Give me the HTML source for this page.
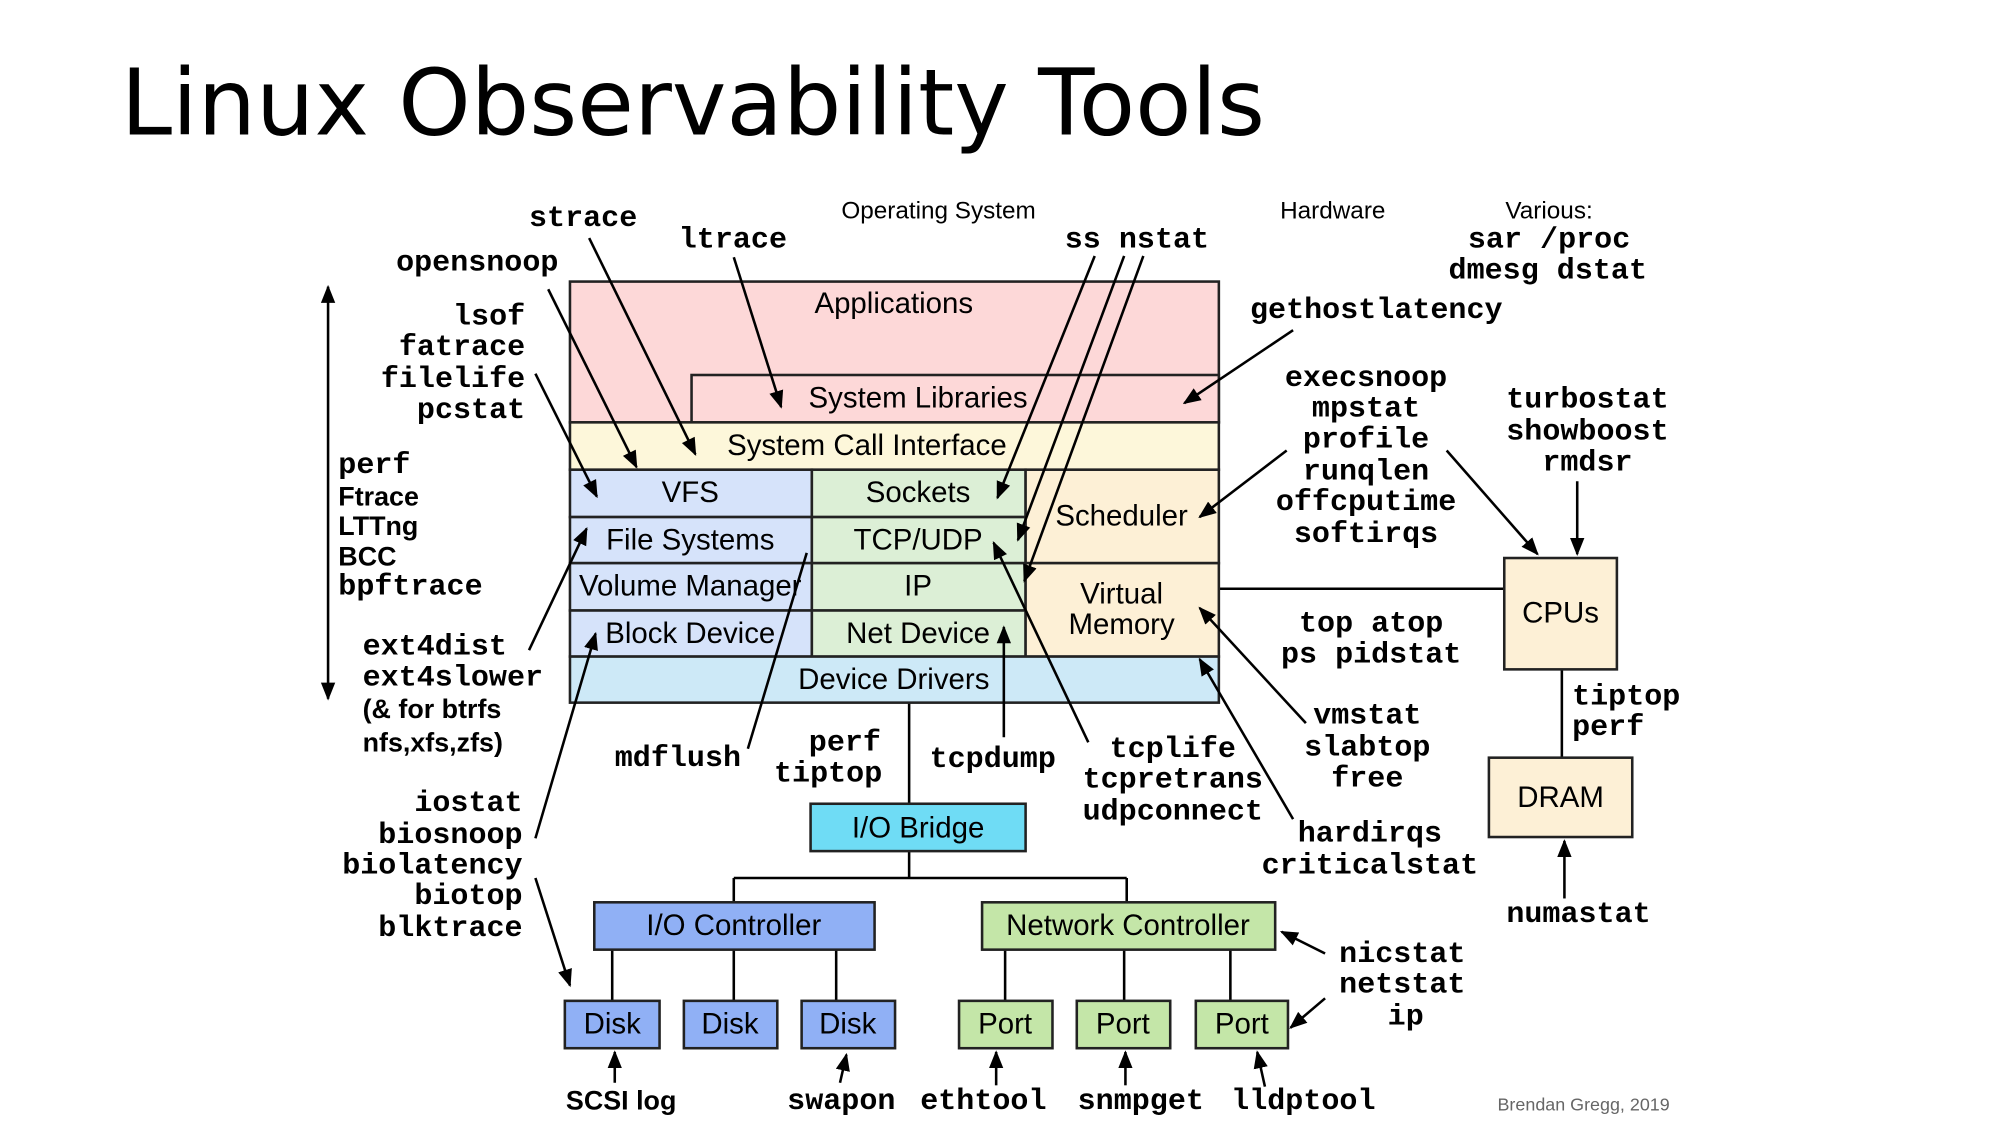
<!DOCTYPE html>
<html><head><meta charset="utf-8"><style>
html,body{margin:0;padding:0;background:#fff;}
svg{display:block;}
.m{font-family:"Liberation Mono",monospace;font-weight:bold;font-size:23.5px;fill:#000;}
.s{font-family:"Liberation Sans",sans-serif;font-size:23px;fill:#000;}
.sb{font-family:"Liberation Sans",sans-serif;font-weight:bold;font-size:21px;fill:#000;}
.h{font-family:"Liberation Sans",sans-serif;font-size:19px;fill:#000;}
rect{stroke:#222;stroke-width:2;}
line,path.l{stroke:#000;stroke-width:2;fill:none;}
</style></head><body>
<svg width="2000" height="1125" viewBox="0 0 1562 879" xmlns="http://www.w3.org/2000/svg">
<defs>
<marker id="b" viewBox="0 0 10 10" refX="9" refY="5" markerWidth="14" markerHeight="14" orient="auto-start-reverse" markerUnits="userSpaceOnUse"><path d="M0,1 L10,5 L0,9 z" fill="#000"/></marker></defs>
<text x="94" y="105" font-family="DejaVu Sans,Liberation Sans,sans-serif" font-size="72" fill="#000">Linux Observability Tools</text>

<line x1="952" y1="460" x2="1175" y2="460"/>
<line x1="1220" y1="523" x2="1220" y2="592"/>
<line x1="710" y1="549" x2="710" y2="628"/>
<line x1="710" y1="665" x2="710" y2="686"/>
<line x1="573" y1="686" x2="880" y2="686"/>
<line x1="573" y1="686" x2="573" y2="705"/>
<line x1="880" y1="686" x2="880" y2="705"/>
<line x1="478" y1="742" x2="478" y2="782"/>
<line x1="573" y1="742" x2="573" y2="782"/>
<line x1="653" y1="742" x2="653" y2="782"/>
<line x1="785" y1="742" x2="785" y2="782"/>
<line x1="878" y1="742" x2="878" y2="782"/>
<line x1="961" y1="742" x2="961" y2="782"/>

<rect x="445" y="220" width="507" height="110" fill="#fdd8d8"/>
<rect x="540" y="293" width="412" height="37" fill="#fdd8d8"/>
<rect x="445" y="330" width="507" height="37" fill="#fdf7da"/>
<rect x="445" y="367" width="189" height="37" fill="#d6e3fa"/>
<rect x="445" y="404" width="189" height="36" fill="#d6e3fa"/>
<rect x="445" y="440" width="189" height="37" fill="#d6e3fa"/>
<rect x="445" y="477" width="189" height="36" fill="#d6e3fa"/>
<rect x="634" y="367" width="167" height="37" fill="#dcefd6"/>
<rect x="634" y="404" width="167" height="36" fill="#dcefd6"/>
<rect x="634" y="440" width="167" height="37" fill="#dcefd6"/>
<rect x="634" y="477" width="167" height="36" fill="#dcefd6"/>
<rect x="801" y="367" width="151" height="73" fill="#fdf0d6"/>
<rect x="801" y="440" width="151" height="73" fill="#fdf0d6"/>
<rect x="445" y="513" width="507" height="36" fill="#cde9f7"/>
<rect x="1175" y="436" width="88" height="87" fill="#fdf0d6"/>
<rect x="1163" y="592" width="112" height="62" fill="#fdf0d6"/>
<rect x="633" y="628" width="168" height="37" fill="#6fdcf5"/>
<rect x="464" y="705" width="219" height="37" fill="#90b0f5"/>
<rect x="767" y="705" width="229" height="37" fill="#c4e6a8"/>
<rect x="441" y="782" width="74" height="37" fill="#90b0f5"/>
<rect x="534" y="782" width="73" height="37" fill="#90b0f5"/>
<rect x="626" y="782" width="73" height="37" fill="#90b0f5"/>
<rect x="749" y="782" width="73" height="37" fill="#c4e6a8"/>
<rect x="841" y="782" width="73" height="37" fill="#c4e6a8"/>
<rect x="934" y="782" width="72" height="37" fill="#c4e6a8"/>

<g class="s" text-anchor="middle" dominant-baseline="central">
<text x="698" y="237">Applications</text>
<text x="717" y="311">System Libraries</text>
<text x="677" y="348">System Call Interface</text>
<text x="539" y="385">VFS</text>
<text x="539" y="422">File Systems</text>
<text x="539" y="458">Volume Manager</text>
<text x="539" y="495">Block Device</text>
<text x="717" y="385">Sockets</text>
<text x="717" y="422">TCP/UDP</text>
<text x="717" y="458">IP</text>
<text x="717" y="495">Net Device</text>
<text x="876" y="403">Scheduler</text>
<text x="876" y="464">Virtual</text>
<text x="876" y="488">Memory</text>
<text x="698" y="531">Device Drivers</text>
<text x="1219" y="479">CPUs</text>
<text x="1219" y="623">DRAM</text>
<text x="717" y="647">I/O Bridge</text>
<text x="573" y="723">I/O Controller</text>
<text x="881" y="723">Network Controller</text>
<text x="478" y="800">Disk</text>
<text x="570" y="800">Disk</text>
<text x="662" y="800">Disk</text>
<text x="785" y="800">Port</text>
<text x="877" y="800">Port</text>
<text x="970" y="800">Port</text>
</g>

<g class="h" text-anchor="middle" dominant-baseline="central">
<text x="733" y="165">Operating System</text>
<text x="1041" y="165">Hardware</text>
<text x="1210" y="165">Various:</text>
</g>
<text x="1237" y="863" text-anchor="middle" dominant-baseline="central" font-family="Liberation Sans,sans-serif" font-size="14" fill="#666">Brendan Gregg, 2019</text>

<g marker-end="url(#b)">
<line x1="460" y1="186" x2="543" y2="355"/>
<line x1="573" y1="201" x2="610" y2="318"/>
<line x1="428" y1="226" x2="497" y2="365"/>
<line x1="418" y1="292" x2="466" y2="388"/>
<line x1="855" y1="200" x2="779" y2="389"/>
<line x1="878" y1="200" x2="795" y2="422"/>
<line x1="893" y1="200" x2="800" y2="454"/>
<line x1="1010" y1="258" x2="925" y2="315"/>
<line x1="1005" y1="352" x2="937" y2="404"/>
<line x1="1130" y1="352" x2="1201" y2="433"/>
<line x1="1232" y1="376" x2="1232" y2="433"/>
<line x1="413" y1="508" x2="458" y2="413"/>
<line x1="418" y1="655" x2="465" y2="495"/>
<line x1="418" y1="686" x2="445" y2="770"/>
<line x1="784" y1="576" x2="784" y2="490"/>
<line x1="850" y1="580" x2="776" y2="424"/>
<line x1="1020" y1="565" x2="937" y2="475"/>
<line x1="1010" y1="640" x2="937" y2="515"/>
<line x1="1035" y1="745" x2="1001" y2="728"/>
<line x1="1035" y1="780" x2="1008" y2="803"/>
<line x1="1222" y1="702" x2="1222" y2="657"/>
<line x1="480" y1="846" x2="480" y2="822"/>
<line x1="656" y1="846" x2="661" y2="824"/>
<line x1="778" y1="848" x2="778" y2="822"/>
<line x1="879" y1="848" x2="879" y2="822"/>
<line x1="988" y1="849" x2="982" y2="822"/>
</g>
<line x1="584" y1="585" x2="630" y2="432"/>
<line x1="256" y1="224" x2="256" y2="546" marker-start="url(#b)" marker-end="url(#b)"/>

<g class="m" dominant-baseline="central">
<text x="413" y="171">strace</text>
<text x="530" y="188">ltrace</text>
<text x="436" y="206" text-anchor="end">opensnoop</text>
<text x="410" y="248" text-anchor="end">lsof</text>
<text x="410" y="272" text-anchor="end">fatrace</text>
<text x="410" y="297" text-anchor="end">filelife</text>
<text x="410" y="321" text-anchor="end">pcstat</text>
<text x="264" y="364">perf</text>
<text x="264" y="459">bpftrace</text>
<text x="283" y="506">ext4dist</text>
<text x="283" y="530">ext4slower</text>
<text x="408" y="628" text-anchor="end">iostat</text>
<text x="408" y="653" text-anchor="end">biosnoop</text>
<text x="408" y="677" text-anchor="end">biolatency</text>
<text x="408" y="701" text-anchor="end">biotop</text>
<text x="408" y="726" text-anchor="end">blktrace</text>
<text x="480" y="593">mdflush</text>
<text x="688" y="581" text-anchor="end">perf</text>
<text x="689" y="605" text-anchor="end">tiptop</text>
<text x="726" y="594">tcpdump</text>
<text x="916" y="586" text-anchor="middle">tcplife</text>
<text x="916" y="610" text-anchor="middle">tcpretrans</text>
<text x="916" y="635" text-anchor="middle">udpconnect</text>
<text x="888" y="188" text-anchor="middle">ss nstat</text>
<text x="1210" y="188" text-anchor="middle">sar /proc</text>
<text x="1209" y="212" text-anchor="middle">dmesg dstat</text>
<text x="1075" y="243" text-anchor="middle">gethostlatency</text>
<text x="1067" y="296" text-anchor="middle">execsnoop</text>
<text x="1067" y="320" text-anchor="middle">mpstat</text>
<text x="1067" y="344" text-anchor="middle">profile</text>
<text x="1067" y="369" text-anchor="middle">runqlen</text>
<text x="1067" y="393" text-anchor="middle">offcputime</text>
<text x="1067" y="418" text-anchor="middle">softirqs</text>
<text x="1240" y="313" text-anchor="middle">turbostat</text>
<text x="1240" y="338" text-anchor="middle">showboost</text>
<text x="1240" y="362" text-anchor="middle">rmdsr</text>
<text x="1071" y="488" text-anchor="middle">top atop</text>
<text x="1071" y="512" text-anchor="middle">ps pidstat</text>
<text x="1228" y="545">tiptop</text>
<text x="1228" y="569">perf</text>
<text x="1068" y="560" text-anchor="middle">vmstat</text>
<text x="1068" y="585" text-anchor="middle">slabtop</text>
<text x="1068" y="609" text-anchor="middle">free</text>
<text x="1070" y="652" text-anchor="middle">hardirqs</text>
<text x="1070" y="677" text-anchor="middle">criticalstat</text>
<text x="1233" y="715" text-anchor="middle">numastat</text>
<text x="1046" y="746">nicstat</text>
<text x="1046" y="770">netstat</text>
<text x="1098" y="795" text-anchor="middle">ip</text>
<text x="657" y="861" text-anchor="middle">swapon</text>
<text x="768" y="861" text-anchor="middle">ethtool</text>
<text x="891" y="861" text-anchor="middle">snmpget</text>
<text x="1018" y="861" text-anchor="middle">lldptool</text>
</g>
<g class="sb" dominant-baseline="central">
<text x="264" y="388">Ftrace</text>
<text x="264" y="411">LTTng</text>
<text x="264" y="435">BCC</text>
<text x="283" y="554">(&amp; for btrfs</text>
<text x="283" y="580">nfs,xfs,zfs)</text>
<text x="485" y="860" text-anchor="middle">SCSI log</text>
</g>
</svg>
</body></html>
